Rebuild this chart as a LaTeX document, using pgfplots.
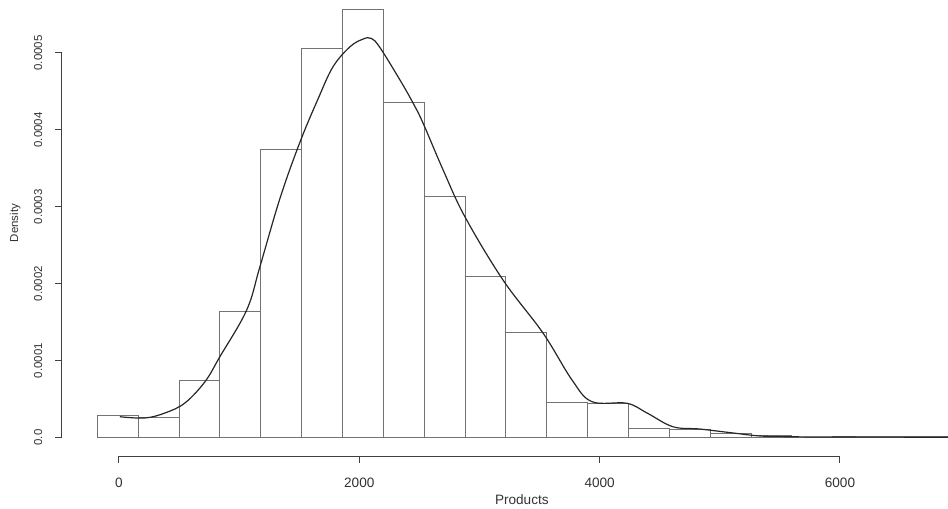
\documentclass[border=0pt]{standalone}
\usepackage{fontspec}
\setmainfont{Liberation Sans}
\usepackage{pgfplots}
\pgfplotsset{compat=1.18}
\begin{document}
\begin{tikzpicture}[x=1pt,y=1pt]
\useasboundingbox (0,0) rectangle (711,381);
\begin{axis}[
  at={(46.5pt,39pt)}, anchor=south west,
  scale only axis, width=664.5pt, height=342pt,
  xmin=-474, xmax=6899, ymin=-2.406e-5, ymax=5.689e-4,
  clip=false,
  axis lines*=left, axis line style={draw=none},
  tick align=outside, major tick length=5.25pt,
  tick style={black!75, line width=0.75pt},
  xtick={0,2000,4000,6000}, xticklabels={0,2000,4000,6000},
  ytick={0,0.0001,0.0002,0.0003,0.0004,0.0005},
  yticklabels={0.0,0.0001,0.0002,0.0003,0.0004,0.0005},
  scaled y ticks=false, scaled x ticks=false,
  xticklabel style={font=\fontsize{10.2}{12}\selectfont, text=black!80, yshift=-7.5pt},
  yticklabel style={font=\fontsize{8.6}{10}\selectfont, text=black!80, xshift=-6pt, rotate=90, anchor=south},
  xlabel={Products}, ylabel={Density},
  xlabel style={at={(axis description cs:0.519,-0.0965)}, anchor=center, font=\fontsize{10.2}{12}\selectfont, text=black!80},
  ylabel style={at={(axis description cs:-0.0530,0.511)}, anchor=center, rotate=0, font=\fontsize{8.6}{10}\selectfont, text=black!80},
]
\draw[black!75, line width=0.75pt] (axis cs:0,-2.406e-5) -- (axis cs:6000,-2.406e-5);
\draw[black!75, line width=0.75pt] (axis cs:-474,0) -- (axis cs:-474,0.0005);
\addplot[ybar interval, fill=white, draw=black!55, line width=0.8pt] coordinates {
(-180,2.83e-5) (160,2.57e-5) (500,7.39e-5) (840,1.636e-4) (1180,3.75e-4)
(1520,5.06e-4) (1860,5.56e-4) (2200,4.36e-4) (2540,3.13e-4) (2880,2.09e-4)
(3220,1.37e-4) (3560,4.6e-5) (3900,4.4e-5) (4240,1.2e-5) (4580,1.0e-5)
(4920,5.0e-6) (5260,2.0e-6) (5600,0) (5940,1.2e-6) (6280,1.2e-6) (6620,1.2e-6) (6899,0)
};
\addplot[smooth, tension=0.6, black!85, line width=0.9pt] coordinates {
(8,2.70e-5) (216,2.54e-5) (383,3.19e-5) (549,4.49e-5) (716,7.26e-5)
(840,1.051e-4) (1063,1.658e-4) (1173,2.221e-4) (1340,3.11e-4) (1506,3.84e-4)
(1656,4.40e-4) (1781,4.82e-4) (1922,5.08e-4) (2030,5.18e-4) (2100,5.19e-4) (2172,5.07e-4)
(2338,4.65e-4) (2447,4.35e-4) (2530,4.09e-4) (2700,3.47e-4) (2879,2.87e-4)
(3195,2.05e-4) (3528,1.36e-4) (3770,7.48e-5) (3936,4.66e-5) (4227,4.45e-5)
(4394,3.19e-5) (4610,1.40e-5) (4835,1.1e-5) (5109,5.9e-6) (5334,2.0e-6)
(5584,1.0e-6) (5900,6e-7) (6300,5e-7) (6899,4e-7)
};
\end{axis}
\end{tikzpicture}
\end{document}
